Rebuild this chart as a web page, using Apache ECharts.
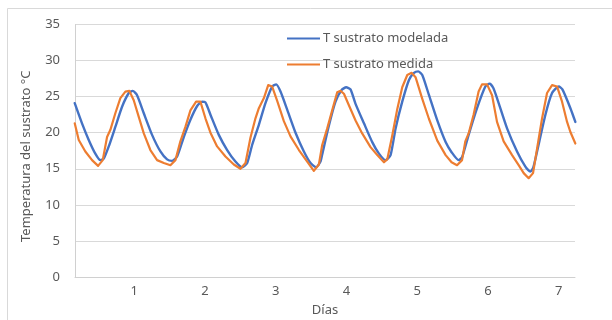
<!DOCTYPE html>
<html>
<head>
<meta charset="utf-8">
<script src="https://cdn.jsdelivr.net/npm/echarts@6/dist/echarts.min.js"></script>
<style>
  html, body { margin: 0; padding: 0; background: #ffffff; }
  #chart { width: 612px; height: 320px; }
</style>
</head>
<body>
<div id="chart"></div>
<script>
// Temperatura del sustrato: modelo frente a medición (días)
const modeladaDias = [0.161, 0.264, 0.359, 0.452, 0.523, 0.571, 0.642, 0.735, 0.830, 0.925,
  0.981, 1.042, 1.137, 1.254, 1.372, 1.466, 1.537, 1.608, 1.702, 1.796, 1.891, 1.961, 2.008,
  2.079, 2.197, 2.315, 2.432, 2.527, 2.598, 2.668, 2.763, 2.856, 2.951, 3.008, 3.069, 3.163,
  3.281, 3.399, 3.493, 3.573, 3.634, 3.658, 3.753, 3.846, 3.931, 3.997, 4.058, 4.129, 4.248,
  4.365, 4.460, 4.553, 4.624, 4.695, 4.789, 4.884, 4.955, 5.015, 5.072, 5.167, 5.284, 5.402,
  5.486, 5.585, 5.634, 5.727, 5.846, 5.963, 6.024, 6.076, 6.128, 6.270, 6.411, 6.529, 6.599,
  6.641, 6.694, 6.812, 6.906, 7.000, 7.052, 7.165, 7.235];
const modeladaT = [24.1, 21.3, 19.0, 17.1, 16.2, 16.4, 18.1, 20.8, 23.6, 25.5,
  25.8, 25.2, 22.7, 19.7, 17.4, 16.3, 16.1, 16.7, 19.4, 21.8, 23.7, 24.3, 24.2,
  22.5, 19.7, 17.6, 16.0, 15.2, 15.8, 18.3, 21.1, 24.1, 26.4, 26.7, 25.7, 23.2,
  20.0, 17.4, 15.8, 15.2, 16.0, 17.0, 21.0, 24.3, 25.9, 26.3, 26.0, 24.0, 21.3,
  18.7, 17.1, 16.2, 16.9, 20.6, 24.3, 27.3, 28.3, 28.5, 28.0, 25.2, 21.7, 18.7,
  17.3, 16.2, 16.6, 19.7, 23.4, 26.4, 26.8, 26.2, 24.8, 20.6, 17.4, 15.3, 14.6,
  15.2, 17.4, 22.5, 25.5, 26.4, 26.0, 23.4, 21.5];

const medidaDias = [0.161, 0.218, 0.311, 0.406, 0.491, 0.557, 0.618, 0.665, 0.735, 0.806,
  0.877, 0.933, 0.995, 1.066, 1.137, 1.230, 1.325, 1.420, 1.513, 1.584, 1.654, 1.725, 1.796,
  1.876, 1.937, 2.008, 2.079, 2.173, 2.291, 2.409, 2.503, 2.574, 2.644, 2.715, 2.763, 2.834,
  2.895, 2.951, 3.022, 3.116, 3.210, 3.329, 3.446, 3.540, 3.611, 3.658, 3.729, 3.799, 3.870,
  3.917, 3.965, 4.035, 4.129, 4.223, 4.341, 4.436, 4.531, 4.577, 4.648, 4.719, 4.789, 4.860,
  4.921, 4.977, 5.072, 5.167, 5.284, 5.402, 5.486, 5.563, 5.634, 5.680, 5.727, 5.797, 5.868,
  5.916, 5.987, 6.058, 6.128, 6.222, 6.341, 6.434, 6.505, 6.575, 6.637, 6.694, 6.765, 6.835,
  6.906, 6.977, 7.047, 7.118, 7.165, 7.235];
const medidaT = [21.3, 19.0, 17.4, 16.2, 15.4, 16.2, 19.4, 20.4, 22.7, 24.8,
  25.7, 25.8, 24.5, 22.2, 19.9, 17.6, 16.2, 15.8, 15.5, 16.2, 18.8, 20.8, 23.1,
  24.3, 24.3, 22.0, 20.0, 18.1, 16.7, 15.6, 15.0, 15.8, 19.3, 22.0, 23.4, 24.8,
  26.6, 26.4, 24.4, 21.6, 19.5, 17.6, 16.0, 14.7, 15.6, 18.3, 20.6, 23.1, 25.6,
  25.8, 25.4, 23.8, 21.7, 19.9, 18.0, 16.9, 15.9, 16.3, 19.6, 23.3, 26.3, 28.0,
  28.3, 27.7, 24.7, 21.9, 18.9, 16.9, 15.9, 15.5, 16.2, 18.8, 19.9, 22.5, 25.7,
  26.7, 26.7, 25.2, 21.5, 18.8, 16.9, 15.5, 14.4, 13.7, 14.4, 17.8, 22.0, 25.5,
  26.6, 26.4, 24.3, 21.5, 20.1, 18.5];

const diaTicks = [1, 2, 3, 4, 5, 6, 7];
const tempTicks = [0, 5, 10, 15, 20, 25, 30, 35];

const zip = (xs, ys) => xs.map((x, i) => [x, ys[i]]);

const textColor = '#595959';
const gridColor = '#d9d9d9';
const fontFamily = '"Noto Sans", "Open Sans", sans-serif';

const chart = echarts.init(document.getElementById('chart'), null, { renderer: 'canvas' });

chart.setOption({
  animation: false,
  backgroundColor: '#ffffff',
  textStyle: { fontFamily: fontFamily },
  graphic: [{
    type: 'rect',
    shape: { x: 7.5, y: 8.5, width: 640, height: 340 },
    style: { fill: 'none', stroke: '#d9d9d9', lineWidth: 1 },
    silent: true,
    z: -1
  }],
  grid: { left: 75, right: 37, top: 24.5, bottom: 43, containLabel: false, outerBoundsMode: 'none' },
  legend: {
    orient: 'vertical',
    left: 282,
    top: 27,
    itemWidth: 33,
    itemHeight: 2,
    itemGap: 13,
    icon: 'rect',
    textStyle: { color: textColor, fontSize: 13, fontFamily: fontFamily, padding: [0, 0, 0, -2] },
    data: ['T sustrato modelada', 'T sustrato medida']
  },
  xAxis: {
    type: 'value',
    min: 0.165,
    max: 7.23,
    name: 'Días',
    nameLocation: 'middle',
    nameGap: 27,
    nameTextStyle: { color: textColor, fontSize: 13, fontFamily: fontFamily },
    axisLine: { show: true, onZero: false, lineStyle: { color: '#d0d0d0', width: 1 } },
    axisTick: { show: false },
    splitLine: { show: false },
    axisLabel: {
      color: textColor, fontSize: 13, margin: 8, fontFamily: fontFamily,
      customValues: diaTicks,
      formatter: v => String(v)
    }
  },
  yAxis: {
    type: 'value',
    min: 0,
    max: 35,
    interval: 5,
    name: 'Temperatura del sustrato °C',
    nameLocation: 'middle',
    nameGap: 42,
    nameTextStyle: { color: textColor, fontSize: 13, fontFamily: fontFamily, padding: [0, 0, 0, -11] },
    axisLine: { show: true, lineStyle: { color: '#d0d0d0', width: 1 } },
    axisTick: { show: false },
    splitLine: { show: true, lineStyle: { color: gridColor, width: 1 } },
    axisLabel: {
      color: textColor, fontSize: 13, margin: 15, fontFamily: fontFamily,
      formatter: v => (tempTicks.indexOf(v) >= 0 ? String(v) : '')
    }
  },
  series: [
    {
      name: 'T sustrato modelada',
      type: 'line',
      data: zip(modeladaDias, modeladaT),
      showSymbol: false,
      symbol: 'none',
      smooth: 0.2,
      color: '#4472C4',
      lineStyle: { color: '#4472C4', width: 2.4, join: 'round', cap: 'round' },
      z: 2
    },
    {
      name: 'T sustrato medida',
      type: 'line',
      data: zip(medidaDias, medidaT),
      showSymbol: false,
      symbol: 'none',
      smooth: false,
      color: '#ED7D31',
      lineStyle: { color: '#ED7D31', width: 2.2, join: 'round', cap: 'round' },
      z: 3
    }
  ]
});
</script>
</body>
</html>
